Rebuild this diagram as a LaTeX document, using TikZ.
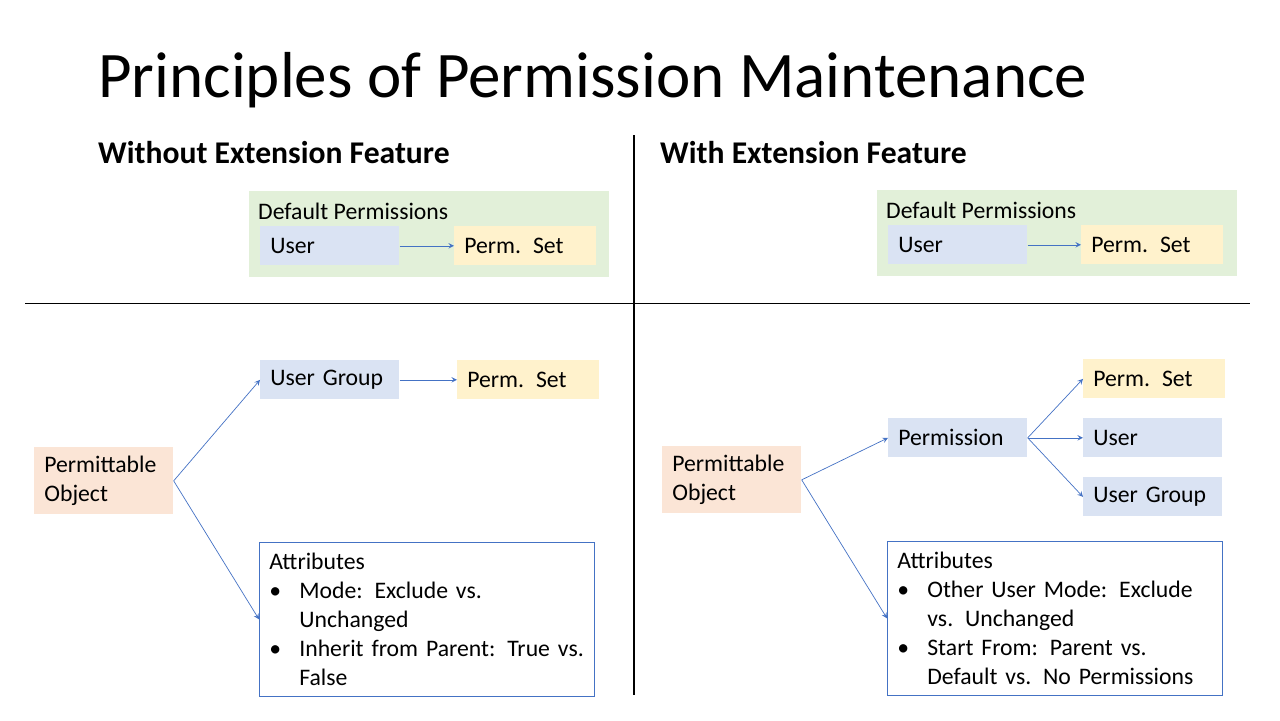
\documentclass[tikz,border=0pt]{standalone}
\usepackage{fontspec}
\setmainfont{Carlito}
\usetikzlibrary{positioning}
\definecolor{boxblue}{HTML}{DAE3F3}
\definecolor{boxyellow}{HTML}{FFF2CC}
\definecolor{boxorange}{HTML}{FBE5D6}
\definecolor{boxgreen}{HTML}{E2F0D9}
\definecolor{lineblue}{HTML}{4472C4}
\newcommand{\bodyfont}{\fontsize{13.5}{16.4}\selectfont}
\newcommand{\bitem}[1]{\makebox[0.6cm][l]{\textbullet}#1}
\newcommand{\bcont}[1]{\hspace*{0.6cm}#1}
\begin{document}
\begin{tikzpicture}[x=0.02cm,y=-0.02cm,
	thin,
	box/.style = {anchor=north west, inner xsep=0.2cm, inner ysep=0pt, minimum height=0.78cm, text width=2.38cm, align=left, font=\bodyfont},
	userbox/.style = {box, fill=boxblue},
	setbox/.style = {box, fill=boxyellow, text width=2.44cm},
	objbox/.style = {box, fill=boxorange, minimum height=1.34cm},
	attrbox/.style = {anchor=north west, draw=lineblue, inner xsep=0.2cm, inner ysep=0.16cm, minimum height=3.08cm, text width=6.3cm, align=left, font=\bodyfont},
	grp/.style = {anchor=north west, fill=boxgreen, minimum width=7.2cm, minimum height=1.72cm},
	link/.style = {->, >=stealth, lineblue, shorten >=0pt}]
	\useasboundingbox (0,0) rectangle (1280,720);

	\node[anchor=west, font=\fontsize{37}{40}\selectfont] (title) at (92,80) {Principles of Permission Maintenance};
	\node[anchor=west, font=\fontsize{18}{20}\bfseries] (lhead) at (92,153) {Without Extension Feature};
	\node[anchor=west, font=\fontsize{18}{20}\bfseries] (rhead) at (654,153) {With Extension Feature};

	\coordinate (vtop) at (634,135);
	\coordinate (vbot) at (634,695);
	\coordinate (hl) at (25,303);
	\coordinate (hr) at (1250,303);
	\draw[line width=1.6pt] (vtop) -- (vbot);
	\draw[thin] (hl) -- (hr);

	% left, default
	\node[grp] (lgrp) at (249,191) {};
	\node[anchor=west, font=\bodyfont] (ldef) at (252,211) {Default Permissions};
	\node[userbox] (luser) at (260,226) {User};
	\node[setbox] (lset) at (454,226) {Perm. Set};
	\draw[link] (luser) -- (lset);

	% right, default
	\node[grp] (rgrp) at (877,190) {};
	\node[anchor=west, font=\bodyfont] (rdef) at (880,210) {Default Permissions};
	\node[userbox] (ruser) at (888,225) {User};
	\node[setbox] (rset) at (1081,225) {Perm. Set};
	\draw[link] (ruser) -- (rset);

	% left, objects
	\node[objbox] (lobj) at (34,447) {Permittable Object};
	\node[userbox] (lug) at (260,360) {User Group};
	\node[setbox] (lugset) at (457,360) {Perm. Set};
	\node[attrbox] (lattr) at (259,542) {Attributes\\
		\bitem{Mode: Exclude vs.}\\ \bcont{Unchanged}\\
		\bitem{Inherit from Parent: True vs.}\\ \bcont{False}};
	\draw[link] (lug) -- (lugset);
	\draw[link] (lobj.east) -- (lug.west);
	\draw[link] (lobj.east) -- (lattr.west);

	% right, objects
	\node[objbox] (robj) at (662,446) {Permittable Object};
	\node[userbox] (rperm) at (888,418) {Permission};
	\node[setbox] (rpset) at (1083,359) {Perm. Set};
	\node[userbox, text width=2.38cm] (rpuser) at (1083,418) {User};
	\node[userbox] (rpgroup) at (1083,477) {User Group};
	\node[attrbox] (rattr) at (887,541) {Attributes\\
		\bitem{Other User Mode: Exclude}\\ \bcont{vs. Unchanged}\\
		\bitem{Start From: Parent vs.}\\ \bcont{Default vs. No Permissions}};
	\draw[link] (robj.east) -- (rperm.west);
	\draw[link] (robj.east) -- (rattr.west);
	\draw[link] (rperm.east) -- (rpset.west);
	\draw[link] (rperm.east) -- (rpuser.west);
	\draw[link] (rperm.east) -- (rpgroup.west);
\end{tikzpicture}
\end{document}
